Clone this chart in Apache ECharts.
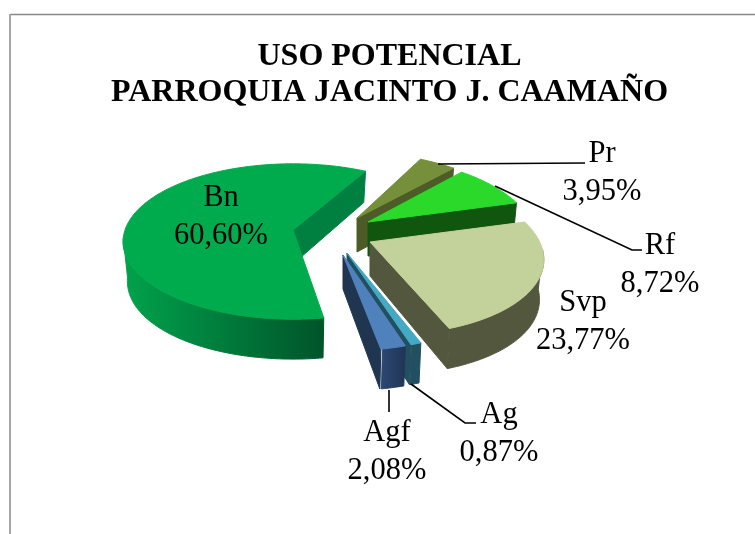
<!DOCTYPE html>
<html><head><meta charset="utf-8">
<style>html,body{margin:0;padding:0;background:#fff}#c{width:755px;height:534px}</style>
<script src="https://cdn.jsdelivr.net/npm/echarts@6/dist/echarts.min.js"></script>
</head><body><div id="c"></div>
<script>
const categories = ['Bn','Pr','Rf','Svp','Ag','Agf'];
const values = [60.60,3.95,8.72,23.77,0.87,2.08];

// layout of the tilted, exploded pie
const startAngle = 81;
const apexX = [293,357,368,370,347,343];
const apexY = [230,218,222,242,253,255];
const shear = [0,0.155,0.155,0.155,0.10,0.08];
const scaleX = [1,1,0.97,1.01,1,1];
const scaleY = [1,1,1,1.04,1.08,1.07];
const topColors = ['#00AB4E','#768F3A','#2BD92B','#C3D29A','#44A9C4','#4F81BD'];
const wallColors = ['#008040','#4D5C26','#11560F','#52573D','#225060','#1F3550'];
const outerFrom = ['#00A34C','#4D5C26','#11560F','#52573D','#225060','#2C4874'];
const outerTo = ['#00542A','#4D5C26','#11560F','#52573D','#225060','#1F3556'];
const labelX = [221,602,660,583,499,387];
const labelY = [217,173,265,322,434,452];
const leaders = [null,[[438,164],[585,163]],[[495,186],[632,250],[642,250]],null,[[411,384],[465,423],[476,423]],[[389,390],[389,412]]];

const Rx = 168, Ry = 76, K = 0.148, DEPTH = 34, EXTRA = 5, BOTTOM_SCALE = 0.975;
const fontFam = '"Liberation Serif","Times New Roman",serif';
const total = values.reduce((a,b)=>a+b,0);

function fmt(v){return v.toFixed(2).replace('.',',')+'%';}
function sliceAngles(i){
  let a = startAngle;
  for(let j=0;j<i;j++) a += values[j]/total*360;
  return [a, a+values[i]/total*360];
}
function proj(i,deg,bottom){
  const r = deg*Math.PI/180, w = 1-K*Math.sin(r), c = Math.cos(r);
  const x0 = Rx*c/w, y0 = Ry*Math.sin(r)/w;
  const s = bottom?BOTTOM_SCALE:1;
  return [apexX[i]+s*scaleX[i]*(x0+shear[i]*y0), apexY[i]+scaleY[i]*y0+(bottom?DEPTH/w+EXTRA*c*c:0)];
}
function apex(i,bottom){return [apexX[i],apexY[i]+(bottom?DEPTH:0)];}
function arc(i,a,b,bottom){
  const out=[]; const n=Math.max(2,Math.ceil(b-a));
  for(let k=0;k<=n;k++) out.push(proj(i,a+(b-a)*k/n,bottom));
  return out;
}
function poly(points,fill){
  return {type:'polygon',shape:{points},style:{fill,stroke:fill,lineWidth:1,lineJoin:'round'},silent:true};
}
function renderItem(params){
  const i = params.dataIndex;
  const [a,b] = sliceAngles(i);
  const kids = [];
  // outer wall, only the part facing the viewer
  let a2=null,b2=null;
  for(let d=a;d<=b;d+=0.5){
    if(Math.sin(d*Math.PI/180)>0.1){ if(a2===null) a2=d; b2=d; }
  }
  if(a2!==null && b2>a2){
    const pts = arc(i,a2,b2,false).concat(arc(i,a2,b2,true).reverse());
    kids.push(poly(pts,new echarts.graphic.LinearGradient(0,0,1,0,[
      {offset:0,color:outerFrom[i]},{offset:1,color:outerTo[i]}])));
  }
  // radial inner walls
  if(Math.cos(a*Math.PI/180)<0) kids.push(poly([apex(i,false),proj(i,a,false),proj(i,a,true),apex(i,true)],wallColors[i]));
  if(Math.cos(b*Math.PI/180)>0) kids.push(poly([apex(i,false),proj(i,b,false),proj(i,b,true),apex(i,true)],wallColors[i]));
  // top face
  kids.push(poly([apex(i,false)].concat(arc(i,a,b,false)),topColors[i]));
  // leader
  if(leaders[i]) kids.push({type:'polyline',shape:{points:leaders[i]},style:{stroke:'#000',lineWidth:1.6,fill:null},silent:true,z2:50});
  // label
  kids.push({type:'text',x:labelX[i],y:labelY[i],z2:60,silent:true,style:{
    text:categories[i]+'\n'+fmt(values[i]),fill:'#000',font:'30.5px '+fontFam,
    align:'center',verticalAlign:'middle',lineHeight:38}});
  return {type:'group',children:kids};
}
const chart = echarts.init(document.getElementById('c'),null,{renderer:'canvas'});
chart.setOption({
  animation:false,
  backgroundColor:'#fff',
  title:{text:'USO POTENCIAL\nPARROQUIA JACINTO J. CAAMAÑO',left:384.5,top:34,textAlign:'center',
    textStyle:{fontFamily:fontFam,fontWeight:'bold',fontSize:32,lineHeight:36,color:'#000'}},
  graphic:[
    {type:'line',shape:{x1:10,y1:14.5,x2:755,y2:14.5},style:{stroke:'#888',lineWidth:1.5},silent:true},
    {type:'line',shape:{x1:10,y1:14,x2:10,y2:534},style:{stroke:'#a6a6a6',lineWidth:2},silent:true}
  ],
  series:[{type:'custom',coordinateSystem:'none',renderItem,data:values.map(v=>[v]),silent:true}]
});
</script></body></html>
